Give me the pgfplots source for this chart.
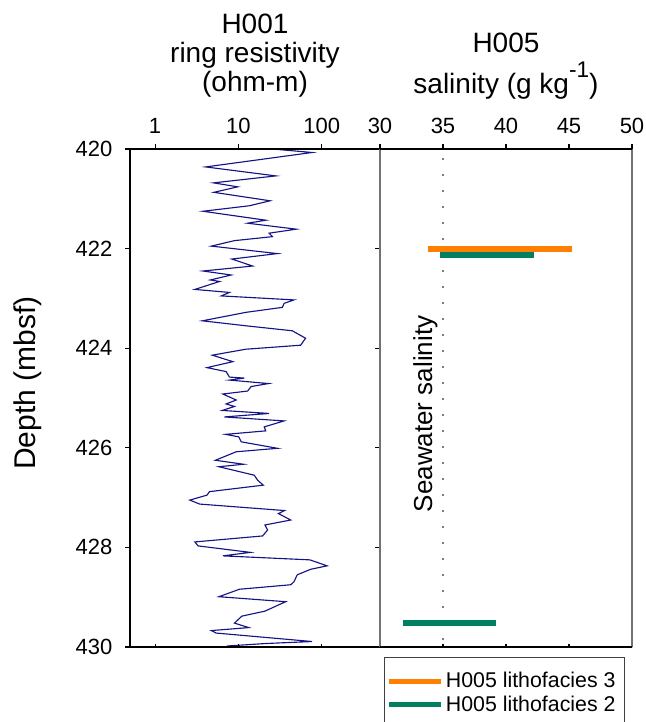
\documentclass[border=0pt]{standalone}
\usepackage{pgfplots}
\pgfplotsset{compat=1.18}
\usepackage{fontspec}
\setmainfont{Liberation Sans}
\definecolor{resline}{RGB}{20,20,135}
\definecolor{lithoA}{RGB}{255,128,0}
\definecolor{lithoB}{RGB}{0,128,96}

\pgfplotsset{
  panel/.style={
    scale only axis, height=373.5pt, anchor=south west, clip=false,
    y dir=reverse, ymin=420, ymax=430,
    axis line style={line width=1pt},
    tick style={black, line width=0.8pt},
    /pgf/number format/assume math mode=true,
    ticklabel style={font=\fontsize{16.5}{18}\selectfont},
    xtick pos=top, xticklabel pos=top, tick align=outside,
    major tick length=3.75pt, xminorticks=false, yminorticks=false,
  },
  bottomticks/.style={
    scale only axis, height=373.5pt, anchor=south west,
    hide y axis, xtick pos=bottom, tick align=inside, major tick length=2.5pt,
    xticklabels={}, axis line style={line width=1pt}, xminorticks=false,
    tick style={black, line width=0.8pt},
  },
}
\tikzset{ttl/.style={anchor=base, inner sep=0pt, font=\fontsize{21}{24}\selectfont}}

\begin{document}
\begin{tikzpicture}
\useasboundingbox (-97.5pt,-56.25pt) rectangle (387pt,485.25pt);
% ring resistivity
\begin{axis}[panel, at={(0pt,0pt)}, width=187.5pt,
  xmode=log, xmin=0.5, xmax=500, xtick={1,10,100}, xticklabels={1,10,100},
  ytick={420,422,...,430}, ytick pos=left,
  xticklabel style={yshift=4pt},
  yticklabel style={xshift=-6pt}]
\addplot[resline, line width=0.85pt] coordinates {
(25.6,420.00) (76.7,420.07) (4.05,420.36) (28.1,420.54) (5.04,420.68) (9.8,420.76)
(5.08,420.87) (24,421.04) (13.5,421.14) (3.76,421.25) (21.3,421.43) (12.9,421.49)
(49.5,421.61) (23.4,421.69) (25.6,421.76) (8.96,421.84) (4.73,421.95) (29.4,422.10)
(8.33,422.21) (14.8,422.35) (3.76,422.45) (8.19,422.53) (4.6,422.63) (5.94,422.66)
(3.0,422.82) (7.8,422.88) (6.22,422.95) (46.4,423.03) (35.3,423.10) (33.7,423.18)
(12.3,423.28) (3.69,423.45) (12.3,423.55) (44.3,423.65) (64,423.80) (55.7,423.94)
(12.3,424.02) (4.86,424.14) (8.57,424.27) (4.2,424.39) (7.13,424.47) (7.8,424.58)
(11.8,424.60) (7.8,424.64) (23,424.71) (14.2,424.77) (12.9,424.86) (6.5,424.92)
(9.4,425.04) (7.13,425.12) (8.96,425.17) (6.4,425.25) (23.4,425.31) (6.8,425.38)
(35.3,425.46) (20.4,425.58) (21.3,425.66) (7.0,425.73) (10.1,425.78) (10.8,425.88)
(29.4,426.01) (9.4,426.08) (5.3,426.25) (11.5,426.33) (5.83,426.38) (15.5,426.55)
(17,426.65) (19.9,426.75) (4.5,426.88) (4.2,426.95) (2.61,427.05) (3.43,427.13)
(35.8,427.26) (30.2,427.32) (42.4,427.45) (20.8,427.55) (22.4,427.65) (19.5,427.77)
(3.0,427.89) (3.28,427.97) (13.9,428.10) (6.5,428.17) (72,428.25) (116,428.37)
(73.5,428.44) (50.8,428.55) (46.4,428.69) (42.4,428.75) (10.3,428.84) (5.83,428.99)
(36.9,429.09) (20.8,429.28) (11,429.38) (8.96,429.52) (13.3,429.61) (4.73,429.67)
(5.4,429.72) (76.7,429.89) (21.3,429.93) (7.26,429.98)};
\node[ttl] at (axis description cs:0.5,1) [yshift=86.8pt] {H001};
\node[ttl] at (axis description cs:0.5,1) [yshift=64.7pt] {ring resistivity};
\node[ttl] at (axis description cs:0.5,1) [yshift=43pt] {(ohm-m)};
\node[rotate=90, font=\fontsize{22.5}{26}\selectfont] at (axis description cs:-0.408,0.53) {Depth (mbsf)};
\end{axis}
\begin{axis}[bottomticks, at={(0pt,0pt)}, width=187.5pt,
  xmode=log, xmin=0.5, xmax=500, xtick={1,10,100}, ymin=420, ymax=430]
\end{axis}

% salinity
\begin{axis}[panel, at={(187.5pt,0pt)}, width=189pt,
  xmin=30, xmax=50, xtick={30,35,...,50},
  xticklabel style={yshift=4pt},
  ytick={420,422,...,430}, yticklabels={}, ytick pos=left, tick align=outside,
  separate axis lines,
  x axis line style={black, line width=1pt},
  y axis line style={black!55, line width=1.6pt},
  legend style={at={(axis description cs:0.008,-0.040)}, anchor=north west,
    draw=none, fill=none, font=\fontsize{16}{18}\selectfont,
    cells={anchor=west}, row sep=0.5pt},
  legend image code/.code={\draw[#1, line width=3.75pt] (0pt,0pt) -- (39pt,0pt);}]
\addplot[forget plot, gray, line width=1.2pt, dash pattern=on 1.2pt off 10.8pt, dash phase=-7pt]
  coordinates {(35,420) (35,430)};
\addplot[lithoA, line width=4.5pt] coordinates {(33.8,422.0) (45.2,422.0)};
\addplot[lithoB, line width=4.5pt] coordinates {(34.8,422.12) (42.2,422.12)};
\addplot[forget plot, lithoB, line width=4.5pt] coordinates {(31.8,429.51) (39.2,429.51)};
\legend{H005 lithofacies 3, H005 lithofacies 2}
\draw[black!75, line width=0.8pt] (axis description cs:0.016,-0.022) rectangle (axis description cs:0.972,-0.17);
\node[ttl] at (axis description cs:0.5,1) [yshift=72.2pt] {H005};
\node[ttl] at (axis description cs:0.5,1) [yshift=41.8pt] {salinity (g kg\raisebox{0.55em}{\fontsize{17}{17}\selectfont -1})};
\node[rotate=90, font=\fontsize{19.5}{22}\selectfont] at (axis cs:33.6,425.32) {Seawater salinity};
\end{axis}
\begin{axis}[bottomticks, at={(187.5pt,0pt)}, width=189pt,
  xmin=30, xmax=50, xtick={35,40,45}, ymin=420, ymax=430]
\end{axis}
\end{tikzpicture}
\end{document}
